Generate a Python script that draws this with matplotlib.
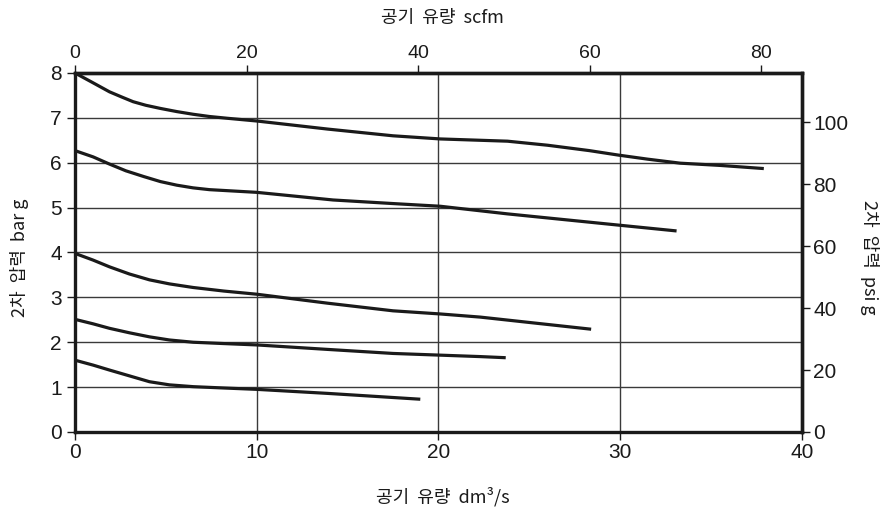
import matplotlib
matplotlib.use('Agg')
import matplotlib.pyplot as plt
import numpy as np

plt.rcParams['font.family'] = ['Liberation Sans', 'DejaVu Sans']

# curves: flow dm3/s vs secondary pressure bar g
flow1 = [0, 1.0, 1.9, 2.6, 3.2, 3.9, 4.7, 5.6, 6.5, 7.4, 8.4, 10.0, 13.9, 17.5, 20.1, 23.8, 26.0, 28.3, 29.9, 31.5, 33.3, 35.5, 37.9]
pres1 = [8.0, 7.78, 7.58, 7.46, 7.36, 7.28, 7.21, 7.14, 7.08, 7.03, 6.99, 6.93, 6.75, 6.60, 6.53, 6.48, 6.39, 6.27, 6.17, 6.08, 5.99, 5.94, 5.87]
flow2 = [0, 1.0, 1.9, 2.8, 3.8, 4.7, 5.6, 6.5, 7.4, 10.0, 14.2, 17.5, 20.1, 23.8, 29.9, 33.1]
pres2 = [6.27, 6.13, 5.97, 5.82, 5.69, 5.58, 5.50, 5.44, 5.40, 5.34, 5.17, 5.09, 5.03, 4.86, 4.61, 4.48]
flow3 = [0, 1.0, 1.9, 3.0, 4.1, 5.2, 6.5, 8.2, 10.0, 13.9, 17.5, 20.1, 22.3, 28.4]
pres3 = [3.98, 3.83, 3.68, 3.52, 3.39, 3.30, 3.22, 3.14, 3.07, 2.87, 2.70, 2.63, 2.56, 2.29]
flow4 = [0, 1.0, 1.9, 3.0, 4.1, 5.2, 6.5, 8.2, 10.0, 13.9, 17.5, 22.3, 23.7]
pres4 = [2.51, 2.41, 2.31, 2.21, 2.12, 2.05, 2.00, 1.97, 1.94, 1.84, 1.75, 1.68, 1.655]
flow5 = [0, 1.0, 1.9, 3.0, 4.1, 5.2, 6.5, 8.2, 10.0, 13.9, 19.0]
pres5 = [1.60, 1.49, 1.38, 1.25, 1.12, 1.05, 1.01, 0.98, 0.95, 0.86, 0.73]

SCFM = 2.119   # scfm per dm3/s
PSI = 14.5     # psi per bar

kor = ['Noto Sans CJK KR', 'DejaVu Sans']

fig = plt.figure(figsize=(8.85, 5.15), dpi=100)
ax = fig.add_axes([0.0847, 0.1612, 0.8215, 0.6971])

for f, p in [(flow1, pres1), (flow2, pres2), (flow3, pres3), (flow4, pres4), (flow5, pres5)]:
    ax.plot(f, p, color='#1a1a1a', lw=2.3, solid_capstyle='butt', solid_joinstyle='round', zorder=3)

ax.set_xlim(0, 40)
ax.set_ylim(0, 8)
ax.set_xticks([0, 10, 20, 30, 40])
ax.set_yticks(range(0, 9))
ax.grid(True, color='#3a3a3a', lw=1.0)
for s in ax.spines.values():
    s.set_linewidth(2.4)
    s.set_color('#1a1a1a')
ax.tick_params(direction='out', length=6, width=1.0, labelsize=15, colors='#1a1a1a')
ax.tick_params(axis='x', pad=2)

top = ax.secondary_xaxis('top', functions=(lambda x: x * SCFM, lambda x: x / SCFM))
top.set_xticks([0, 20, 40, 60, 80])
top.tick_params(direction='out', length=6, width=1.0, labelsize=14, pad=2, colors='#1a1a1a')
top.spines['top'].set_linewidth(2.4)
for lab in top.get_xticklabels():
    lab.set_family(['Liberation Sans Narrow', 'Liberation Sans'])

right = ax.secondary_yaxis('right', functions=(lambda y: y * PSI, lambda y: y / PSI))
right.set_yticks([0, 20, 40, 60, 80, 100])
right.tick_params(direction='out', length=6, width=1.0, labelsize=15, pad=2, colors='#1a1a1a')
right.spines['right'].set_linewidth(2.4)

fig.text(0.5, 0.965, '공기  유량  scfm', ha='center', va='center', fontsize=13, family=kor, color='#1a1a1a')
fig.text(0.5, 0.035, '공기  유량  dm³/s', ha='center', va='center', fontsize=13, family=kor, color='#1a1a1a')
fig.text(0.022, 0.5, '2차  압력  bar g', ha='center', va='center', rotation=90, fontsize=13, family=kor, color='#1a1a1a')
fig.text(0.982, 0.5, '2차  압력  psi g', ha='center', va='center', rotation=-90, fontsize=13, family=kor, color='#1a1a1a')

fig.savefig('out.png', dpi=100)
